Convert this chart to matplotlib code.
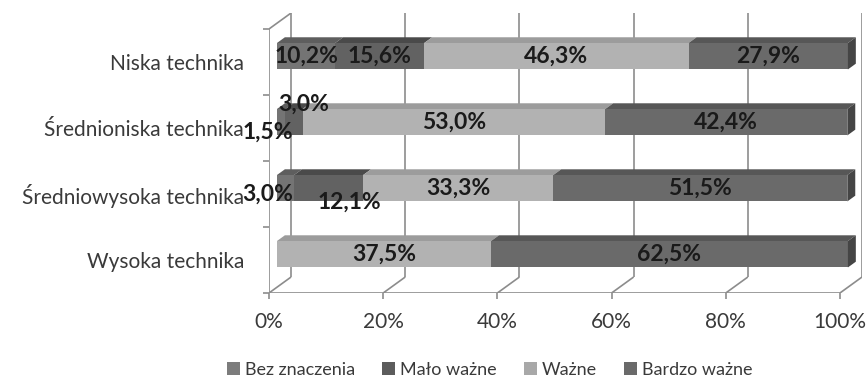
import matplotlib.pyplot as plt
from matplotlib.patches import Polygon, Patch

plt.rcParams['font.family'] = ['Lato', 'DejaVu Sans']

# dane: udział odpowiedzi (%) dla poziomów techniki
categories = ['Wysoka technika', 'Średniowysoka technika',
              'Średnioniska technika', 'Niska technika']
series = ['Bez znaczenia', 'Mało ważne', 'Ważne', 'Bardzo ważne']
bez_znaczenia = [0.0, 3.0, 1.5, 10.2]
malo_wazne = [0.0, 12.1, 3.0, 15.6]
wazne = [37.5, 33.3, 53.0, 46.3]
bardzo_wazne = [62.5, 51.5, 42.4, 27.9]
values = [bez_znaczenia, malo_wazne, wazne, bardzo_wazne]
xticks = [0, 20, 40, 60, 80, 100]

# kolory: przód, góra, bok słupka
front = ['#747474', '#626262', '#b2b2b2', '#6a6a6a']
top = ['#5e5e5e', '#4a4a4a', '#9c9c9c', '#575757']
side = '#454545'
legend_col = ['#7c7c7c', '#5c5c5c', '#a8a8a8', '#6a6a6a']
wall = '#8c8c8c'

# przesunięcia etykiet przesuniętych ręcznie (w punktach)
label_shift = {(2, 0): (-10, -7), (2, 1): (7, 13),
               (1, 0): (-13, -4), (1, 1): (15, -10)}

# głębokość 3D w jednostkach danych
DX, DY = 3.86, 0.242
F0 = 0.36          # położenie przedniej ściany słupka w głębi
BDX, BDY = 0.36 * DX, 0.36 * DY
H = 0.4

W_PX, H_PX = 867, 383
fig = plt.figure(figsize=(W_PX / 100, H_PX / 100), dpi=100)
ax = fig.add_axes([269 / W_PX, (H_PX - 293) / H_PX,
                   (862 - 269) / W_PX, (293 - 13) / H_PX])
ax.set_xlim(0, 100 + DX)
ax.set_ylim(-0.5, 3.5 + DY)
for s in ax.spines.values():
    s.set_visible(False)

# ściany i linie siatki
lk = dict(color=wall, lw=1.2, zorder=1, solid_capstyle='butt')
ax.plot([0, 0], [-0.5, 3.5], **lk)
ax.plot([0, DX], [3.5, 3.5 + DY], **lk)
ax.plot([0, 100], [-0.5, -0.5], **lk)
for t in xticks:
    ax.plot([t, t + DX], [-0.5, -0.5 + DY], **lk)
    ax.plot([t + DX, t + DX], [-0.5 + DY, 3.5 + DY], **lk)

# słupki 3D
ox, oy = F0 * DX, F0 * DY
for i, cat in enumerate(categories):
    left = 0.0
    last = max(k for k in range(4) if values[k][i] > 0)
    for k in range(4):
        v = values[k][i]
        if v <= 0:
            continue
        x0, x1 = left + ox, left + v + ox
        y0, y1 = i - H / 2 + oy, i + H / 2 + oy
        ax.add_patch(Polygon([(x0, y1), (x1, y1), (x1 + BDX, y1 + BDY),
                              (x0 + BDX, y1 + BDY)], closed=True,
                             fc=top[k], ec='none', zorder=3))
        ax.add_patch(Polygon([(x0, y0), (x1, y0), (x1, y1), (x0, y1)],
                             closed=True, fc=front[k], ec='none', zorder=3))
        if k == last:
            ax.add_patch(Polygon([(x1, y0), (x1, y1), (x1 + BDX, y1 + BDY),
                                  (x1 + BDX, y0 + BDY)], closed=True,
                                 fc=side, ec='none', zorder=3))
        dxp, dyp = label_shift.get((i, k), (0, 0))
        ax.annotate(f'{v:.1f}%'.replace('.', ','),
                    xy=(left + v / 2 + ox, i + oy), xytext=(dxp, dyp),
                    textcoords='offset points', ha='center', va='center',
                    fontsize=16.5, fontweight='bold', color='#1a1a1a',
                    zorder=5, annotation_clip=False)
        left += v

# osie
ax.set_xticks(xticks)
ax.set_xticklabels([f'{t}%' for t in xticks])
ax.tick_params(axis='x', length=4, width=1.2, color=wall, pad=10,
               labelsize=15, labelcolor='#3a3a3a')
ax.set_yticks(range(4))
ax.set_yticklabels(categories)
ax.set_yticks([-0.5, 0.5, 1.5, 2.5, 3.5], minor=True)
ax.tick_params(axis='y', which='major', length=0, pad=18,
               labelsize=15, labelcolor='#3a3a3a')
ax.tick_params(axis='y', which='minor', length=4, width=1.2, color=wall)

handles = [Patch(fc=legend_col[k], ec='none', label=series[k]) for k in range(4)]
fig.legend(handles=handles, loc='center', bbox_to_anchor=(0.565, 0.035),
           ncol=4, frameon=False, fontsize=13, handlelength=0.7,
           handleheight=0.7, handletextpad=0.3, columnspacing=1.5,
           labelcolor='#3a3a3a')

fig.savefig('out.png', dpi=100)
